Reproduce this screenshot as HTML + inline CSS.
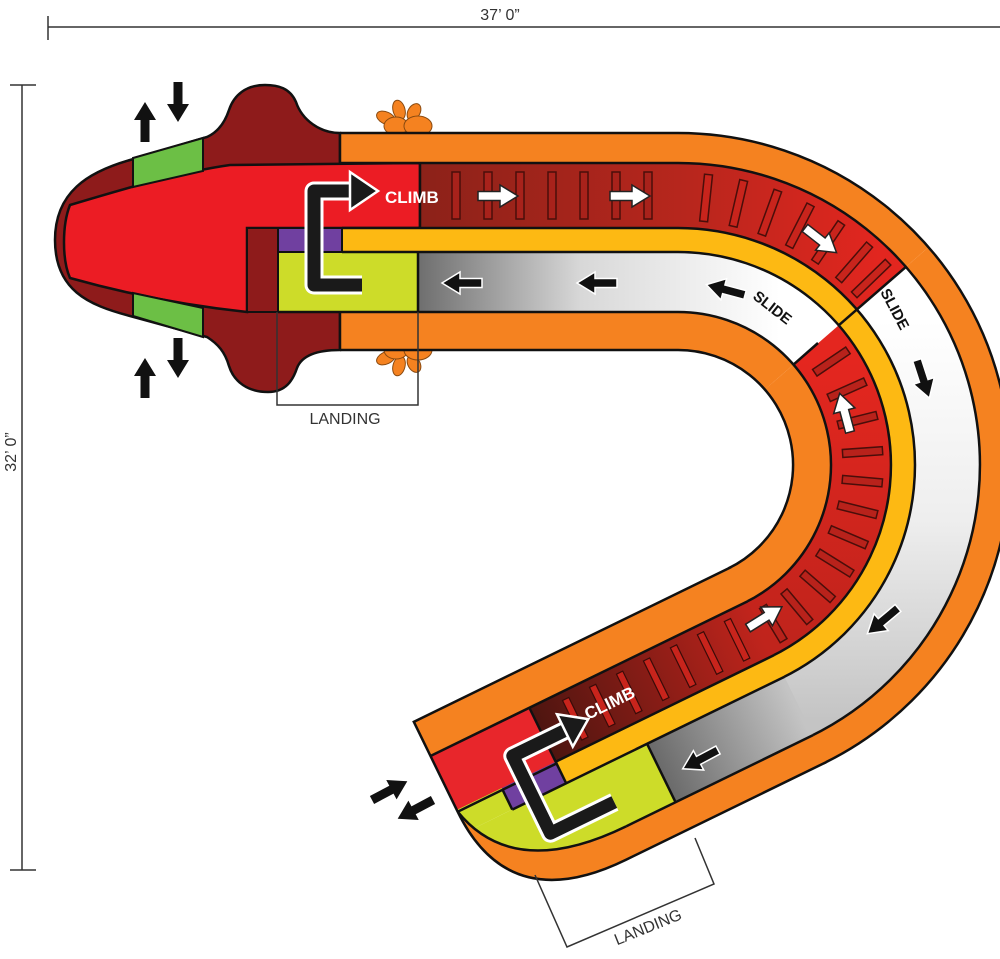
<!DOCTYPE html>
<html><head><meta charset="utf-8"><style>
html,body{margin:0;padding:0;background:#fff;}
svg{display:block;}
text{font-family:"Liberation Sans",sans-serif;}
</style></head><body>
<svg width="1000" height="959" viewBox="0 0 1000 959" xmlns="http://www.w3.org/2000/svg">
<defs>
  <linearGradient id="climbA" gradientUnits="userSpaceOnUse" x1="420" y1="0" x2="880" y2="0">
    <stop offset="0" stop-color="#8c2219"/><stop offset="0.6" stop-color="#b9261d"/><stop offset="1" stop-color="#e2261f"/>
  </linearGradient>
  <linearGradient id="slideA" gradientUnits="userSpaceOnUse" x1="418" y1="0" x2="780" y2="0">
    <stop offset="0" stop-color="#6e6e6e"/><stop offset="0.45" stop-color="#d8d8d8"/><stop offset="1" stop-color="#ffffff"/>
  </linearGradient>
  <linearGradient id="slideB" gradientUnits="userSpaceOnUse" x1="0" y1="320" x2="0" y2="720">
    <stop offset="0" stop-color="#ffffff"/><stop offset="0.5" stop-color="#eeeeee"/><stop offset="1" stop-color="#c4c4c4"/>
  </linearGradient>
  <linearGradient id="climbB" gradientUnits="userSpaceOnUse" x1="0" y1="360" x2="0" y2="640">
    <stop offset="0" stop-color="#e4261f"/><stop offset="1" stop-color="#c0241c"/>
  </linearGradient>
  <linearGradient id="slideL" gradientUnits="userSpaceOnUse" x1="0" y1="0" x2="150" y2="0">
    <stop offset="0" stop-color="#c4c4c4"/><stop offset="1" stop-color="#6a6a6a"/>
  </linearGradient>
  <linearGradient id="climbL" gradientUnits="userSpaceOnUse" x1="0" y1="0" x2="240" y2="0">
    <stop offset="0" stop-color="#c0241c"/><stop offset="1" stop-color="#4e1510"/>
  </linearGradient>
  <clipPath id="armclip"><path d="M-3,0 H350 V100 Q350,217 220,217 H-3 Z"/></clipPath>
  <g id="arr"><polygon points="0,-4.5 22,-4.5 22,-11 40,0 22,11 22,4.5 0,4.5"/></g>
  <g id="flower" fill="#f58220" stroke="#8a4a10" stroke-width="1">
    <ellipse cx="-16" cy="-6" rx="10" ry="6" transform="rotate(25 -16 -6)"/>
    <ellipse cx="-3" cy="-14" rx="6" ry="10" transform="rotate(-15 -3 -14)"/>
    <ellipse cx="12" cy="-12" rx="6" ry="9" transform="rotate(30 12 -12)"/>
    <ellipse cx="-6" cy="2" rx="12" ry="9"/>
    <ellipse cx="16" cy="2" rx="14" ry="10"/>
  </g>
</defs>

<!-- dimension lines -->
<g stroke="#333" stroke-width="1.5" fill="none">
  <line x1="48" y1="27" x2="1000" y2="27"/><line x1="48" y1="16" x2="48" y2="40"/>
  <line x1="22" y1="85" x2="22" y2="870"/><line x1="10" y1="85" x2="36" y2="85"/><line x1="10" y1="870" x2="36" y2="870"/>
</g>
<text x="500" y="20" font-size="16" text-anchor="middle" fill="#333">37’ 0”</text>
<text transform="translate(16,452) rotate(-90)" font-size="16" text-anchor="middle" fill="#333">32’ 0”</text>

<!-- flowers -->
<use href="#flower" transform="translate(402,124)"/>
<use href="#flower" transform="translate(402,352) scale(1,-1)"/>

<!-- head -->
<path d="M340,133 C320,133 302,120 296,102 C290,88 278,85 265,85 C246,85 234,95 229,110 C224,125 216,133 207,137 L130,160 C88,172 55,192 55,240 C55,290 88,305 130,316 L207,337 C218,344 225,352 229,366 C234,382 248,392 268,392 C286,392 293,380 297,368 C302,355 318,350 340,350 Z" fill="#8e1b1b" stroke="#111" stroke-width="2.5"/>
<path d="M70,205 C120,190 180,172 230,165 L420,163 L420,228 L247,228 L247,312 C180,305 120,292 70,278 C62,260 62,225 70,205 Z" fill="#ec1c24" stroke="#111" stroke-width="2.5"/>
<polygon points="133,158 203,138 203,171 133,187" fill="#6cbf45" stroke="#111" stroke-width="2"/>
<polygon points="133,293 203,308 203,337 133,316" fill="#6cbf45" stroke="#111" stroke-width="2"/>

<!-- Segment A lanes -->
<g fill="none" stroke-linecap="butt">
  <path d="M340,148 H678 A317 317 0 0 1 917.2,257.0" stroke="#f58220" stroke-width="30"/>
  <path d="M420,195.5 H678 A269.5 269.5 0 0 1 881.4,288.2" stroke="url(#climbA)" stroke-width="65"/>
  <path d="M342,240 H678 A225 225 0 0 1 847.8,317.4" stroke="#fdb913" stroke-width="24"/>
  <path d="M418,282 H678 A183 183 0 0 1 816.1,344.9" stroke="url(#slideA)" stroke-width="60"/>
  <path d="M340,331 H678 A134 134 0 0 1 779.1,377.1" stroke="#f58220" stroke-width="38"/>
  <path d="M917.2,257.0 A317 317 0 0 1 817,749.9" stroke="#f58220" stroke-width="30"/>
  <path d="M881.4,288.2 A269.5 269.5 0 0 1 796.1,707.2" stroke="url(#slideB)" stroke-width="65"/>
  <path d="M847.8,317.4 A225 225 0 0 1 776.6,667.2" stroke="#fdb913" stroke-width="24"/>
  <path d="M816.1,344.9 A183 183 0 0 1 758.2,629.5" stroke="url(#climbB)" stroke-width="60"/>
  <path d="M779.1,377.1 A134 134 0 0 1 736.7,585.4" stroke="#f58220" stroke-width="38"/>
</g>
<rect x="278" y="228" width="64" height="24" fill="#7040a0" stroke="#111" stroke-width="2"/>
<rect x="278" y="252" width="140" height="60" fill="#cddc29" stroke="#111" stroke-width="2"/>
<rect x="247" y="228" width="31" height="84" fill="#8e1b1b" stroke="#111" stroke-width="2"/>

<g fill="#a8221b" stroke="#4a0e0a" stroke-width="1.5">
  <rect x="452" y="172" width="8" height="47"/><rect x="484" y="172" width="8" height="47"/>
  <rect x="516" y="172" width="8" height="47"/><rect x="548" y="172" width="8" height="47"/>
  <rect x="580" y="172" width="8" height="47"/><rect x="612" y="172" width="8" height="47"/>
  <rect x="644" y="172" width="8" height="47"/>
</g>
<g fill="#c8241c" stroke="#4a0e0a" stroke-width="1.5">
  <rect x="923" y="461" width="47" height="8" transform="rotate(-84 678 465)"/>
  <rect x="923" y="461" width="47" height="8" transform="rotate(-77 678 465)"/>
  <rect x="923" y="461" width="47" height="8" transform="rotate(-70 678 465)"/>
  <rect x="923" y="461" width="47" height="8" transform="rotate(-63 678 465)"/>
  <rect x="923" y="461" width="47" height="8" transform="rotate(-56 678 465)"/>
  <rect x="923" y="461" width="47" height="8" transform="rotate(-49 678 465)"/>
  <rect x="923" y="461" width="47" height="8" transform="rotate(-44 678 465)"/>
</g>
<g fill="#b8221b" stroke="#4a0e0a" stroke-width="1.5">
  <rect x="843" y="461" width="40" height="8" transform="rotate(-34 678 465)"/>
  <rect x="843" y="461" width="40" height="8" transform="rotate(-24 678 465)"/>
  <rect x="843" y="461" width="40" height="8" transform="rotate(-14 678 465)"/>
  <rect x="843" y="461" width="40" height="8" transform="rotate(-4 678 465)"/>
  <rect x="843" y="461" width="40" height="8" transform="rotate(5 678 465)"/>
  <rect x="843" y="461" width="40" height="8" transform="rotate(14 678 465)"/>
  <rect x="843" y="461" width="40" height="8" transform="rotate(23 678 465)"/>
  <rect x="843" y="461" width="40" height="8" transform="rotate(32 678 465)"/>
  <rect x="843" y="461" width="40" height="8" transform="rotate(41 678 465)"/>
  <rect x="843" y="461" width="40" height="8" transform="rotate(50 678 465)"/>
  <rect x="843" y="461" width="40" height="8" transform="rotate(59 678 465)"/>
</g>

<g fill="none" stroke="#111" stroke-width="2.5">
  <path d="M340,133 H678 A332 332 0 0 1 823.5,763.4"/>
  <path d="M340,163 H678 A302 302 0 0 1 810.4,736.4"/>
  <path d="M342,228 H678 A237 237 0 0 1 781.9,678.0"/>
  <path d="M342,252 H678 A213 213 0 0 1 771.4,656.4"/>
  <path d="M278,312 H678 A153 153 0 0 1 745.1,602.5"/>
  <path d="M340,350 H678 A115 115 0 0 1 728.4,568.4"/>
  <line x1="340" y1="133" x2="340" y2="163"/><line x1="340" y1="312" x2="340" y2="350"/>
  <line x1="420" y1="163" x2="420" y2="228"/><line x1="418" y1="252" x2="418" y2="312"/>
  <line x1="838.7" y1="325.3" x2="905.9" y2="266.9"/>
  <line x1="793.5" y1="364.6" x2="818" y2="343"/>
</g>

<g transform="translate(728.4,568.4) rotate(154) scale(1,-1)">
  <g clip-path="url(#armclip)">
    <rect x="-3" y="0" width="356" height="38" fill="#f58220"/>
    <rect x="-3" y="38" width="245" height="60" fill="url(#climbL)"/>
    <rect x="240" y="38" width="112" height="62" fill="#e8262b"/>
    <rect x="-3" y="98" width="245" height="24" fill="#fdb913"/>
    <rect x="-3" y="122" width="155" height="65" fill="url(#slideL)"/>
    <rect x="150" y="122" width="202" height="65" fill="#cddc29"/>
    <rect x="240" y="98" width="60" height="24" fill="#7040a0"/>
    <rect x="300" y="98" width="52" height="24" fill="#cddc29"/>
    <rect x="-3" y="187" width="356" height="32" fill="#f58220"/>
    <path d="M-3,187 H205 Q330,187 350,100 L352,100 L352,220 L-3,220 Z" fill="#f58220"/>
    <g fill="#c8241c" stroke="#3a0b08" stroke-width="1.2">
      <rect x="20" y="46" width="7" height="44"/><rect x="50" y="46" width="7" height="44"/>
      <rect x="80" y="46" width="7" height="44"/><rect x="110" y="46" width="7" height="44"/>
      <rect x="140" y="46" width="7" height="44"/><rect x="170" y="46" width="7" height="44"/>
      <rect x="200" y="46" width="7" height="44"/>
    </g>
    <g fill="none" stroke="#111" stroke-width="2.5">
      <line x1="-3" y1="38" x2="350" y2="38"/>
      <line x1="-3" y1="98" x2="240" y2="98"/>
      <line x1="240" y1="100" x2="350" y2="100"/>
      <line x1="-3" y1="122" x2="300" y2="122"/>
      <line x1="-3" y1="187" x2="205" y2="187"/>
      <path d="M205,187 Q330,187 350,100"/>
      <line x1="240" y1="38" x2="240" y2="122"/>
      <line x1="300" y1="100" x2="300" y2="122"/>
      <line x1="150" y1="122" x2="150" y2="187"/>
    </g>
  </g>
  <path d="M-3,0 H350 V100 Q350,217 220,217 H-3" fill="none" stroke="#111" stroke-width="2.5"/>
  <path d="M205,160 H276 V74 H215" fill="none" stroke="#fff" stroke-width="19" stroke-linejoin="round"/>
  <path d="M205,160 H276 V74 H215" fill="none" stroke="#1a1a1a" stroke-width="13" stroke-linejoin="round"/>
  <polygon points="218,56 192,74 218,92" fill="#1a1a1a" stroke="#fff" stroke-width="2.5"/>
</g>

<path d="M362,285 H314 V191 H352" fill="none" stroke="#fff" stroke-width="19" stroke-linejoin="round"/>
<path d="M362,285 H314 V191 H352" fill="none" stroke="#1a1a1a" stroke-width="13" stroke-linejoin="round"/>
<polygon points="350,172 378,191 350,210" fill="#1a1a1a" stroke="#fff" stroke-width="2.5"/>
<text x="385" y="203" font-size="17" font-weight="bold" fill="#fff">CLIMB</text>
<text transform="translate(588,720) rotate(-26)" font-size="17" font-weight="bold" fill="#fff">CLIMB</text>

<text transform="translate(752,298) rotate(38)" font-size="15" font-weight="bold" fill="#111">SLIDE</text>
<text transform="translate(880,292) rotate(62)" font-size="15" font-weight="bold" fill="#111">SLIDE</text>

<g fill="#fff" stroke="#222" stroke-width="1.5">
  <use href="#arr" transform="translate(478,196)"/>
  <use href="#arr" transform="translate(610,196)"/>
  <use href="#arr" transform="translate(805,228) rotate(38)"/>
  <use href="#arr" transform="translate(850,432) rotate(-105)"/>
  <use href="#arr" transform="translate(748,628) rotate(-32)"/>
</g>
<g fill="#111" stroke="#fff" stroke-width="1.5">
  <use href="#arr" transform="translate(482,283) rotate(180)"/>
  <use href="#arr" transform="translate(617,283) rotate(180)"/>
  <use href="#arr" transform="translate(745,295) rotate(195)"/>
  <use href="#arr" transform="translate(917,360) rotate(72)"/>
  <use href="#arr" transform="translate(898,608) rotate(140)"/>
  <use href="#arr" transform="translate(718,750) rotate(152)"/>
</g>
<g fill="#111">
  <use href="#arr" transform="translate(372,800) rotate(-28)"/>
  <use href="#arr" transform="translate(433,800) rotate(152)"/>
  <use href="#arr" transform="translate(145,142) rotate(-90)"/>
  <use href="#arr" transform="translate(178,82) rotate(90)"/>
  <use href="#arr" transform="translate(145,398) rotate(-90)"/>
  <use href="#arr" transform="translate(178,338) rotate(90)"/>
</g>

<g stroke="#333" stroke-width="1.5" fill="none">
  <polyline points="277,312 277,405 418,405 418,312"/>
  <polyline points="535,875 567,947 714,884 695,838"/>
</g>
<text x="345" y="424" font-size="16" text-anchor="middle" fill="#333">LANDING</text>
<text transform="translate(650,932) rotate(-22)" font-size="16" text-anchor="middle" fill="#333">LANDING</text>
</svg>
</body></html>
